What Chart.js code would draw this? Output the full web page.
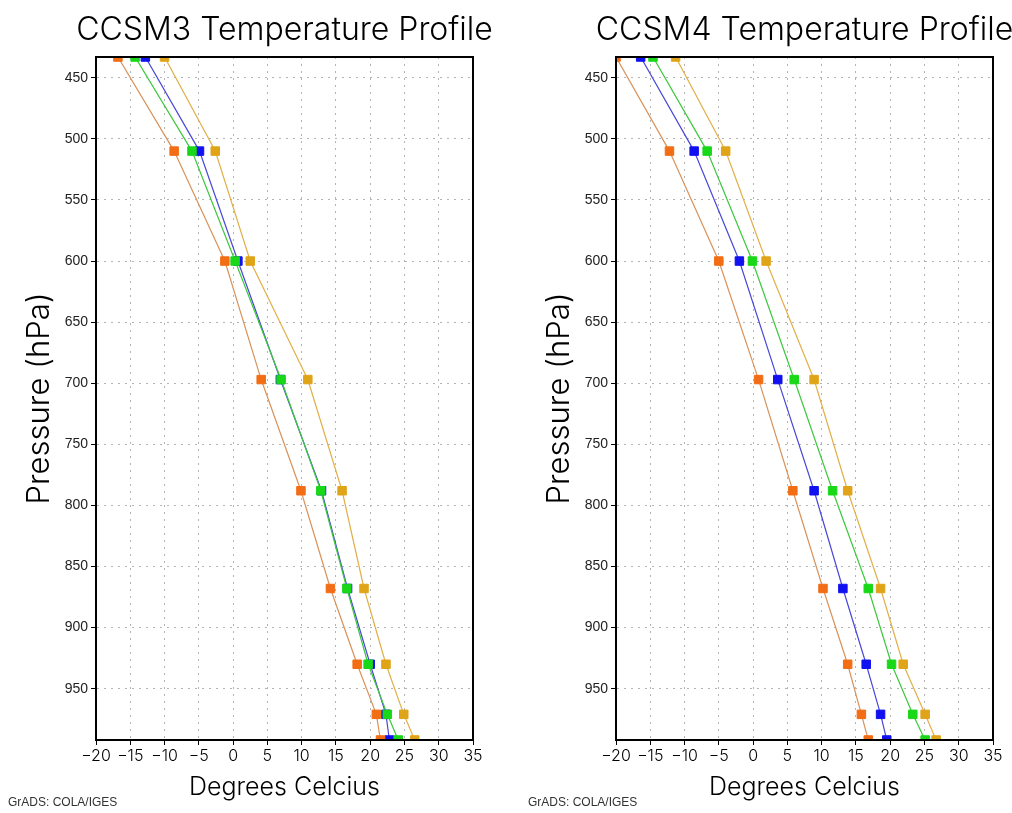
<!DOCTYPE html>
<html>
<head>
<meta charset="utf-8">
<script src="https://cdn.jsdelivr.net/npm/chart.js@4.4.1/dist/chart.umd.min.js"></script>
<style>
  html, body { margin: 0; padding: 0; background: #fff; }
  #wrap { position: relative; width: 1012px; height: 813px; overflow: hidden; }
  canvas { position: absolute; top: 0; }
  #c3 { left: 0; }
  #c4 { left: 506px; }
  .credit { position: absolute; top: 795px; font: 12px "Liberation Sans", Arial, sans-serif; color: #333; }
</style>
</head>
<body>
<div id="wrap">
  <canvas id="c3" width="506" height="813"></canvas>
  <canvas id="c4" width="506" height="813"></canvas>
  <div class="credit" style="left:8px">GrADS: COLA/IGES</div>
  <div class="credit" style="left:528px">GrADS: COLA/IGES</div>
</div>
<script>
// --- Data ---
// model levels (hPa), top to bottom
const levels = [433, 510, 600, 697, 788, 868, 930, 971, 992];
const tempTicks = [-20, -15, -10, -5, 0, 5, 10, 15, 20, 25, 30, 35];
const pressureTicks = [450, 500, 550, 600, 650, 700, 750, 800, 850, 900, 950];

// CCSM3 (deg C at each level)
const ccsm3Orange = [-16.8, -8.6, -1.2, 4.1, 9.9, 14.2, 18.1, 20.9, 21.5];
const ccsm3Green  = [-14.3, -6.0, 0.3, 7.0, 12.8, 16.6, 19.7, 22.5, 24.1];
const ccsm3Blue   = [-12.8, -4.9, 0.7, 6.9, 12.9, 16.7, 20.0, 22.3, 22.8];
const ccsm3Gold   = [-10.0, -2.6, 2.5, 10.9, 15.9, 19.1, 22.3, 24.9, 26.5];

// CCSM4
const ccsm4Orange = [-20.0, -12.2, -5.0, 0.8, 5.8, 10.2, 13.8, 15.8, 16.8];
const ccsm4Green  = [-14.6, -6.7, -0.1, 6.0, 11.6, 16.8, 20.2, 23.3, 25.1];
const ccsm4Blue   = [-16.4, -8.6, -2.0, 3.6, 8.9, 13.1, 16.5, 18.6, 19.5];
const ccsm4Gold   = [-11.3, -4.0, 1.9, 8.9, 13.8, 18.6, 21.9, 25.1, 26.7];

const FONT = '"Liberation Sans", Arial, sans-serif';
const THIN = 'Inter, "Liberation Sans", sans-serif'; // stand-in for the GrADS stroke font
const palette = {
  orange: { line: '#d8925a', mark: '#f26d14' },
  green:  { line: '#3cc83c', mark: '#18d818' },
  blue:   { line: '#4848d8', mark: '#1010f0' },
  gold:   { line: '#e0b048', mark: '#e0a418' }
};

// black box round the plot area
const frame = {
  id: 'frame',
  afterDatasetsDraw(chart) {
    const { ctx, chartArea: a } = chart;
    ctx.save();
    ctx.strokeStyle = '#000';
    ctx.lineWidth = 2;
    ctx.strokeRect(a.left, a.top, a.right - a.left, a.bottom - a.top);
    ctx.restore();
  }
};

// title centred over the plot, allowed to run wider than it (the built-in one gets squeezed)
const panelTitle = {
  id: 'panelTitle',
  afterDraw(chart, args, opts) {
    const { ctx, chartArea: a } = chart;
    ctx.save();
    ctx.font = '300 32px ' + THIN;
    ctx.fillStyle = '#000';
    ctx.textAlign = 'center';
    ctx.textBaseline = 'middle';
    ctx.fillText(opts.text, (a.left + a.right) / 2, 30);
    ctx.restore();
  }
};

function series(temps, c) {
  return {
    data: levels.map((p, i) => ({ x: temps[i], y: p })),
    borderColor: c.line,
    borderWidth: 1.2,
    pointStyle: 'rect',
    pointRadius: 6,
    pointBorderWidth: 1,
    pointBackgroundColor: c.mark,
    pointBorderColor: c.mark,
    tension: 0
  };
}

function makeChart(id, title, datasets, padLeft, padRight) {
  return new Chart(document.getElementById(id), {
    type: 'line',
    data: { datasets },
    plugins: [frame, panelTitle],
    options: {
      responsive: false,
      animation: false,
      layout: { padding: { left: padLeft, right: padRight, top: 57, bottom: 0 } },
      plugins: {
        legend: { display: false },
        tooltip: { enabled: false },
        panelTitle: { text: title }
      },
      scales: {
        x: {
          type: 'linear', min: -20, max: 35,
          afterBuildTicks: s => { s.ticks = tempTicks.map(v => ({ value: v })); },
          afterFit: s => { s.height = 73; s.paddingLeft = 0; s.paddingRight = 0; },
          ticks: {
            color: '#000', padding: 2, maxRotation: 0, autoSkip: false,
            font: { family: THIN, size: 16, weight: 300 },
            callback: v => String(v).replace('-', '\u2212')
          },
          grid: { color: '#b4b4b4', tickColor: '#000', tickLength: 5 },
          border: { color: '#000', width: 2, dash: [2, 5] },
          title: {
            display: true, text: 'Degrees Celcius', color: '#000',
            font: { family: THIN, size: 25, weight: 300 }, padding: { top: 0, bottom: 11 }
          }
        },
        y: {
          type: 'linear', reverse: true, min: 433, max: 992,
          afterBuildTicks: s => { s.ticks = pressureTicks.map(v => ({ value: v })); },
          afterFit: s => { s.width = 96; s.paddingTop = 0; s.paddingBottom = 0; },
          ticks: { color: '#222', padding: 3, autoSkip: false, font: { family: FONT, size: 14 } },
          grid: { color: '#b4b4b4', tickColor: '#000', tickLength: 5 },
          border: { color: '#000', width: 2, dash: [2, 5] },
          title: {
            display: true, text: 'Pressure (hPa)', color: '#000',
            font: { family: THIN, size: 31, weight: 300 }, padding: { top: 21, bottom: 0 }
          }
        }
      }
    }
  });
}

makeChart('c3', 'CCSM3 Temperature Profile', [
  series(ccsm3Orange, palette.orange),
  series(ccsm3Green, palette.green),
  series(ccsm3Blue, palette.blue),
  series(ccsm3Gold, palette.gold)
], 0, 33);

makeChart('c4', 'CCSM4 Temperature Profile', [
  series(ccsm4Orange, palette.orange),
  series(ccsm4Green, palette.green),
  series(ccsm4Blue, palette.blue),
  series(ccsm4Gold, palette.gold)
], 14, 19);
</script>
</body>
</html>
